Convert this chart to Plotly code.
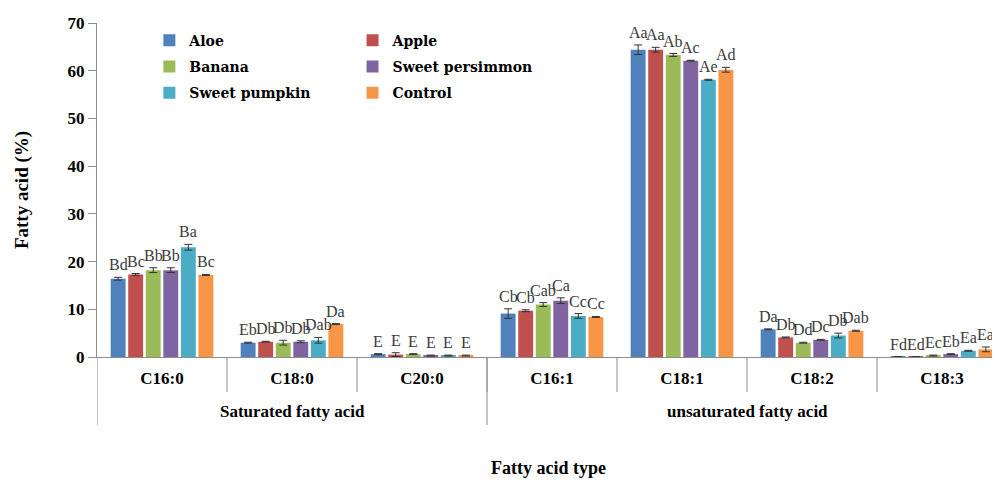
import plotly.graph_objects as go

categories = ["C16:0", "C18:0", "C20:0", "C16:1", "C18:1", "C18:2", "C18:3"]
group_names = ["Saturated fatty acid", "unsaturated fatty acid"]
group_sizes = [3, 4]
treatments = ["Aloe", "Apple", "Banana", "Sweet persimmon", "Sweet pumpkin", "Control"]

aloe = [16.4, 3.0, 0.6, 9.1, 64.4, 5.8, 0.05]
apple = [17.3, 3.2, 0.5, 9.7, 64.4, 4.1, 0.05]
banana = [18.2, 3.0, 0.6, 11.0, 63.3, 3.0, 0.3]
persimmon = [18.2, 3.2, 0.3, 11.8, 62.1, 3.6, 0.6]
pumpkin = [23.0, 3.5, 0.3, 8.6, 58.1, 4.5, 1.3]
control = [17.2, 6.9, 0.3, 8.4, 60.2, 5.5, 1.6]

aloe_err = [0.3, 0.1, 0.1, 1.0, 1.0, 0.1, 0.0]
apple_err = [0.2, 0.1, 0.4, 0.2, 0.5, 0.1, 0.0]
banana_err = [0.5, 0.5, 0.1, 0.4, 0.3, 0.1, 0.1]
persimmon_err = [0.5, 0.2, 0.1, 0.6, 0.1, 0.1, 0.1]
pumpkin_err = [0.6, 0.6, 0.1, 0.5, 0.1, 0.5, 0.1]
control_err = [0.1, 0.1, 0.1, 0.1, 0.5, 0.1, 0.5]

aloe_lbl = ["Bd", "Eb", "E", "Cb", "Aa", "Da", "Fd"]
apple_lbl = ["Bc", "Db", "E", "Cb", "Aa", "Db", "Ed"]
banana_lbl = ["Bb", "Db", "E", "Cab", "Ab", "Dd", "Ec"]
persimmon_lbl = ["Bb", "Db", "E", "Ca", "Ac", "Dc", "Eb"]
pumpkin_lbl = ["Ba", "Dab", "E", "Cc", "Ae", "Db", "Ea"]
control_lbl = ["Bc", "Da", "E", "Cc", "Ad", "Dab", "Ea"]

values = [aloe, apple, banana, persimmon, pumpkin, control]
errors = [aloe_err, apple_err, banana_err, persimmon_err, pumpkin_err, control_err]
letters = [aloe_lbl, apple_lbl, banana_lbl, persimmon_lbl, pumpkin_lbl, control_lbl]
colors = ["#4F81BD", "#C0504D", "#9BBB59", "#8064A2", "#4BACC6", "#F79646"]

SERIF = "Liberation Serif"
WIDE_SERIF = "DejaVu Serif"
BARGAP = 0.19
BARGROUPGAP = 0.15
AXIS_COLOR = "#8C8C8C"
PLOT_W = 903
PLOT_H = 334
CAT_PX = 130

fig = go.Figure()
for k, name in enumerate(treatments):
    fig.add_trace(go.Bar(
        name=name,
        x=categories,
        y=values[k],
        marker=dict(color=colors[k], line=dict(width=0)),
        error_y=dict(type="data", array=errors[k], visible=True,
                     color="#333333", thickness=1, width=4),
        legend="legend" if k % 2 == 0 else "legend2",
        legendgroup=name,
    ))

# significance letters above each bar
n = len(treatments)
slot = (1 - BARGAP) / n
for k in range(n):
    for i in range(len(categories)):
        fig.add_annotation(
            x=i + (k - (n - 1) / 2) * slot,
            y=values[k][i] + errors[k][i],
            xref="x", yref="y",
            text=letters[k][i],
            showarrow=False,
            yanchor="bottom",
            yshift=2,
            font=dict(family=SERIF, size=16, color="#3A3A3A"),
        )

def py(px):
    return -px / PLOT_H

# category dividers below the axis
for b in range(1, len(categories)):
    fig.add_shape(type="line", xref="x", yref="paper",
                  x0=b - 0.5, x1=b - 0.5, y0=0, y1=py(35),
                  line=dict(color=AXIS_COLOR, width=1))

start = 0
for g, size in zip(group_names, group_sizes):
    fig.add_shape(type="line", xref="x", yref="paper",
                  x0=start - 0.5, x1=start - 0.5, y0=0, y1=py(68),
                  line=dict(color=AXIS_COLOR, width=1))
    fig.add_annotation(x=start + (size - 1) / 2, y=py(54), xref="x", yref="paper",
                       text=g, showarrow=False, yanchor="middle",
                       font=dict(family=SERIF, size=17, color="black", weight="bold"))
    start += size
fig.add_shape(type="line", xref="x", yref="paper",
              x0=start - 0.5, x1=start - 0.5, y0=0, y1=py(68),
              line=dict(color=AXIS_COLOR, width=1))

fig.add_annotation(x=0.5, y=py(111), xref="paper", yref="paper",
                   text="Fatty acid type", showarrow=False, yanchor="middle",
                   font=dict(family=SERIF, size=18, color="black", weight="bold"))

legend_font = dict(family=WIDE_SERIF, size=14, color="black", weight="bold")
fig.update_layout(
    width=992, height=474,
    margin=dict(l=89, r=0, t=15, b=125, autoexpand=False),
    paper_bgcolor="white", plot_bgcolor="white",
    barmode="group", bargap=BARGAP, bargroupgap=BARGROUPGAP,
    legend=dict(x=0.058, y=0.995, xanchor="left", yanchor="top",
                font=legend_font, bgcolor="rgba(0,0,0,0)",
                tracegroupgap=5, itemwidth=30),
    legend2=dict(x=0.283, y=0.995, xanchor="left", yanchor="top",
                 font=legend_font, bgcolor="rgba(0,0,0,0)",
                 tracegroupgap=5, itemwidth=30),
    xaxis=dict(range=[-0.5, -0.5 + PLOT_W / CAT_PX], showline=True, linecolor=AXIS_COLOR,
               linewidth=1, ticks="", showgrid=False, zeroline=False,
               ticklabelstandoff=6, automargin=False,
               tickfont=dict(family=SERIF, size=17, color="black", weight="bold")),
    yaxis=dict(range=[0, 70], dtick=10, showline=True, linecolor=AXIS_COLOR,
               linewidth=1, ticks="outside", ticklen=8, tickcolor=AXIS_COLOR,
               showgrid=False, zeroline=False, automargin=False,
               tickfont=dict(family=SERIF, size=17, color="black", weight="bold"),
               title=dict(text="Fatty acid (%)", standoff=33,
                          font=dict(family=SERIF, size=19, color="black", weight="bold"))),
)

fig.write_html("out.html")
